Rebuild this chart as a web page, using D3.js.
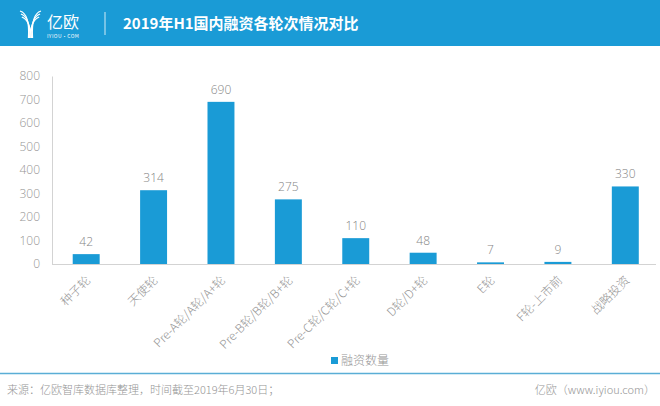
<!DOCTYPE html>
<html><head><meta charset="utf-8">
<script src="https://cdn.jsdelivr.net/npm/d3@7"></script>
<style>
body{margin:0;background:#fff;}
svg{display:block;font-family:"Noto Sans CJK SC","Noto Sans",sans-serif;}
</style></head>
<body><svg id="c" width="660" height="406"></svg>
<script>
const categories = ["种子轮","天使轮","Pre-A轮/A轮/A+轮","Pre-B轮/B轮/B+轮","Pre-C轮/C轮/C+轮","D轮/D+轮","E轮","F轮-上市前","战略投资"];
const values = [42,314,690,275,110,48,7,9,330];
const yTicks = [0,100,200,300,400,500,600,700,800];
const seriesName = "融资数量";
const title = "2019年H1国内融资各轮次情况对比";
const source = "来源：亿欧智库数据库整理，时间截至2019年6月30日；";
const credit = "亿欧（www.iyiou.com）";

const svg = d3.select("#c");
const blue = "#1a9bd6";
const grey = "#959595";
const numFont = "'Open Sans','Noto Sans',sans-serif";

// header
svg.append("rect").attr("x",0).attr("y",0).attr("width",660).attr("height",46).attr("fill",blue);
// logo icon (stylized Y)
const lg = svg.append("g").attr("fill","none").attr("stroke","#fff").attr("stroke-width",1.3);
[0,3,6].forEach(o=>{
  lg.append("path").attr("d",`M${20+o*0.3},${11+o} Q${30},${14+o} ${30+o*0.5-1.5},${38}`);
  lg.append("path").attr("d",`M${41-o*0.3},${11+o} Q${31},${14+o} ${31-o*0.5+1.5},${38}`);
});
svg.append("text").attr("x",47).attr("y",28).attr("fill","#fff").attr("font-size",16).text("亿欧");
svg.append("text").attr("x",47).attr("y",37.5).attr("fill","#fff").attr("font-size",5).attr("letter-spacing",0.4).text("IYIOU·COM");
svg.append("line").attr("x1",105).attr("x2",105).attr("y1",12).attr("y2",35).attr("stroke","#fff").attr("stroke-width",1).attr("opacity",0.8);
svg.append("text").attr("x",123).attr("y",28.5).attr("fill","#fff").attr("font-size",15).attr("font-weight","bold").text(title);

// scales
const x = d3.scaleBand().domain(categories).range([52.5,659]).paddingInner(0.6).paddingOuter(0.3);
const y = d3.scaleLinear().domain([0,800]).range([264,76]);

// y axis
const ya = svg.append("g").attr("transform","translate(52,0)")
  .call(d3.axisLeft(y).tickValues(yTicks).tickSize(0).tickPadding(12));
ya.select(".domain").attr("stroke","#d3d3d3");
ya.selectAll("text").attr("fill",grey).attr("font-size",12).attr("font-weight",300).attr("font-family",numFont);

// x baseline
svg.append("line").attr("x1",52).attr("x2",656).attr("y1",y(0)+0.5).attr("y2",y(0)+0.5).attr("stroke","#d3d3d3");

// bars
svg.append("g").selectAll("rect").data(values).join("rect")
  .attr("x",(d,i)=>x(categories[i])).attr("width",x.bandwidth())
  .attr("y",d=>y(d)).attr("height",d=>y(0)-y(d)).attr("fill",blue);

// value labels
svg.append("g").selectAll("text").data(values).join("text")
  .attr("x",(d,i)=>x(categories[i])+x.bandwidth()/2).attr("y",d=>y(d)-8)
  .attr("text-anchor","middle").attr("fill","#858585").attr("font-size",12).attr("font-weight",300)
  .attr("font-family",numFont).text(d=>d);

// x labels
svg.append("g").selectAll("text").data(categories).join("text")
  .attr("transform",d=>`translate(${x(d)+x.bandwidth()/2+5},${281}) rotate(-45)`)
  .attr("text-anchor","end").attr("fill",grey).attr("font-size",12).attr("font-weight",300).text(d=>d);

// legend
svg.append("rect").attr("x",331).attr("y",357).attr("width",7).attr("height",7).attr("fill",blue);
svg.append("text").attr("x",341).attr("y",365).attr("fill",grey).attr("font-size",12).attr("font-weight",300).text(seriesName);

// footer
svg.append("line").attr("x1",0).attr("x2",660).attr("y1",373.5).attr("y2",373.5).attr("stroke","#5aaed6").attr("stroke-width",1.5);
svg.append("text").attr("x",7).attr("y",394).attr("fill",grey).attr("font-size",11).attr("font-weight",300).text(source);
svg.append("text").attr("x",655).attr("y",394).attr("text-anchor","end").attr("fill",grey).attr("font-size",11).attr("font-weight",300).text(credit);
</script></body></html>
